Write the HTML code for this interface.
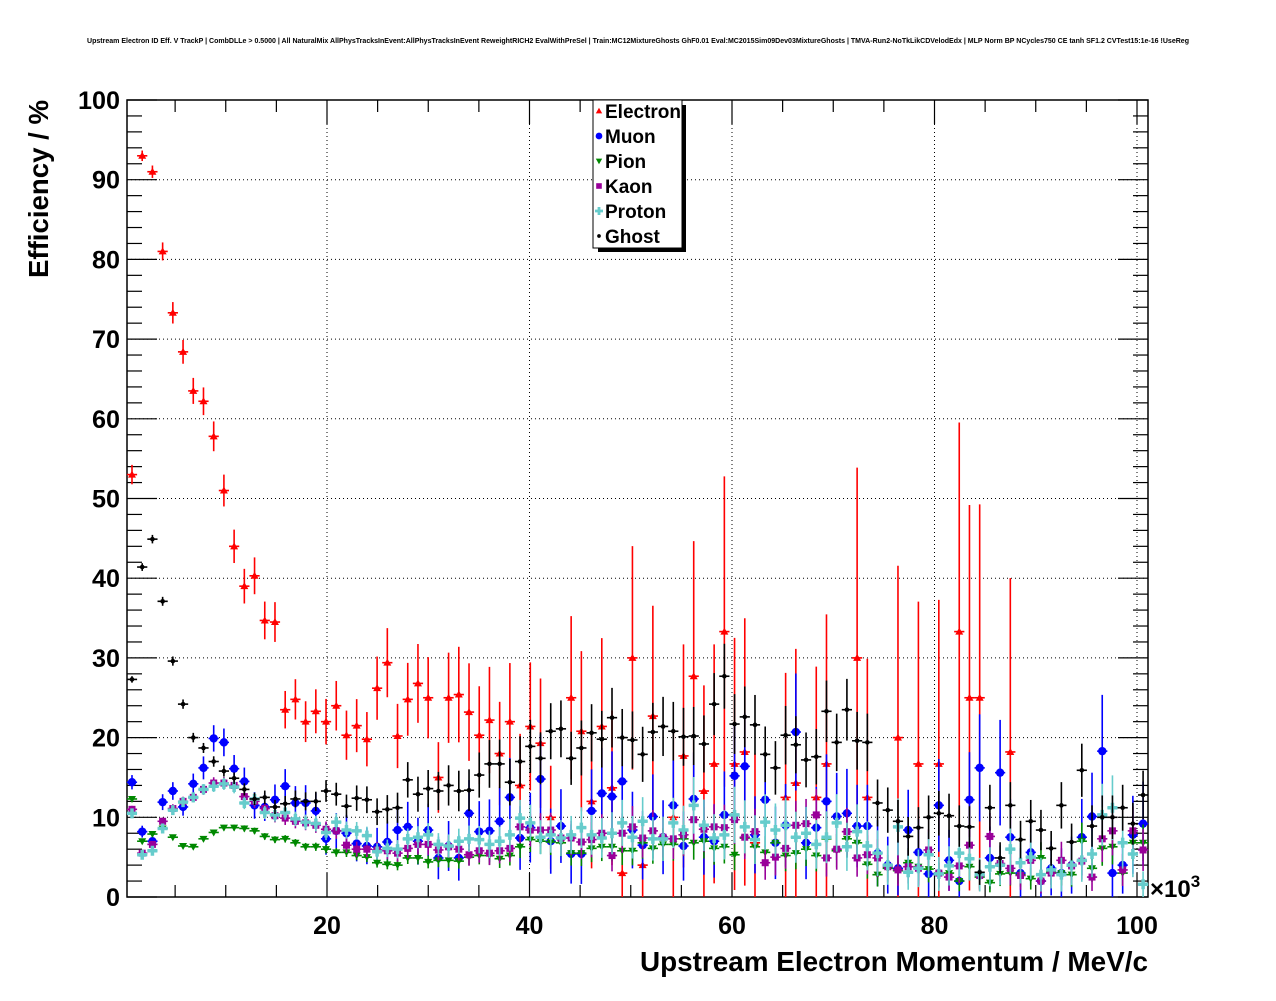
<!DOCTYPE html>
<html><head><meta charset="utf-8">
<style>
html,body{margin:0;padding:0;background:#fff;}
body{width:1276px;height:996px;overflow:hidden;font-family:"Liberation Sans",sans-serif;}
svg text{font-family:"Liberation Sans",sans-serif;font-weight:bold;}
</style></head>
<body>
<svg id="chart" width="1276" height="996" viewBox="0 0 1276 996" xmlns="http://www.w3.org/2000/svg">
<rect x="0" y="0" width="1276" height="996" fill="#fff"/>
<text x="87" y="43" font-size="7" textLength="1102" lengthAdjust="spacingAndGlyphs">Upstream Electron ID Eff. V TrackP | CombDLLe &gt; 0.5000 | All NaturalMix AllPhysTracksInEvent:AllPhysTracksInEvent ReweightRICH2 EvalWithPreSel | Train:MC12MixtureGhosts GhF0.01 Eval:MC2015Sim09Dev03MixtureGhosts | TMVA-Run2-NoTkLikCDVelodEdx | MLP Norm BP NCycles750 CE tanh SF1.2 CVTest15:1e-16 !UseReg</text>
<g id="grid"></g>
<g id="axes"></g>
<g id="marks"></g>
<g id="legend"></g>
<text x="1148" y="971" font-size="28" text-anchor="end" textLength="508" lengthAdjust="spacingAndGlyphs">Upstream Electron Momentum / MeV/c</text>
<text transform="translate(48,100) rotate(-90)" font-size="28" text-anchor="end" textLength="178" lengthAdjust="spacingAndGlyphs">Efficiency / %</text>
<text x="1150" y="897" font-size="24">×10<tspan font-size="17" dy="-10">3</tspan></text>
</svg>
<script>
// ---- data ----
const binStart = 0.74;
const binWidth = 1.0087;
const xTicks = [20, 40, 60, 80, 100];
const yTicks = [0, 10, 20, 30, 40, 50, 60, 70, 80, 90, 100];
const seriesNames = ["Electron", "Muon", "Pion", "Kaon", "Proton", "Ghost"];
const electron = [53,93,91,81,73.3,68.4,63.5,62.2,57.8,51,44,39,40.3,34.7,34.5,23.5,24.8,22,23.3,22,24,20.3,21.5,19.8,26.2,29.4,20.2,24.8,26.8,25,15,25,25.4,23.2,20.3,22.2,18,22,14,21.4,19.3,10,null,25,20.8,12,21.4,13.7,3,30,4,22.7,null,10,17.7,27.7,13.3,16.7,33.3,16.7,18.2,6.8,null,null,12.5,14.3,null,12.5,16.7,null,null,30,12.5,null,null,20,null,16.7,null,16.7,null,33.3,25,25,null,null,18.2,null,null,null,null,null,null,null,null,null,null,null,null,null];
const muon = [14.4,8.2,7,11.9,13.3,11.3,14.2,16.2,19.9,19.4,16.1,14.5,11.5,11.3,12.2,13.9,11.8,11.8,10.8,7.3,8.3,8,6.7,6.4,6.3,6.9,8.4,8.8,7,8.4,4.9,6.4,4.9,10.5,8.2,8.3,9.5,12.5,7.4,8.7,14.8,7,8.9,5.4,5.4,10.8,13,12.6,14.5,8.4,6.5,10.1,7.5,11.5,6.4,12.3,7.5,7,10.3,15.2,16.4,7.8,12.2,6.8,9,20.7,6.8,8.7,12,10.1,10.5,8.9,8.9,5.5,4,3.6,8.4,5.6,2.9,11.5,4.6,2,12.2,16.2,4.9,15.6,7.5,3,5.6,2,3.6,3,4,7.5,10.1,18.3,3,4,7.8,9.2];
const pion = [12.3,7,7.9,8.6,7.5,6.4,6.3,7.3,8.1,8.7,8.7,8.6,8.3,7.6,7.2,7.3,6.8,6.3,6.3,6,5.6,5.6,5.2,5,4.3,4.1,4,4.9,4.9,4.4,4.6,4.6,4.5,5,5.2,5.2,4.8,5.2,6.3,7.2,7,6.9,6.8,5.5,5.5,6.1,6.3,6.3,5.8,5.8,6.8,6.1,6.6,6.6,7.3,6.8,7,6.1,6.3,5.3,7.4,6.3,5.6,6.8,5.2,5.5,6,5.2,7.3,5.8,7.3,6.8,4.1,2.8,3.6,3.3,4.3,3.8,3.5,2.8,3,2,3.8,2.5,1.8,2.9,3,2.8,2.3,4.9,3.1,3,2.8,7,3.6,6.1,6.3,3,6.8,6.8];
const kaon = [11,5.5,6.6,9.5,11.1,12,12.5,13.5,14.3,14.3,14,12.6,12,11.1,10.2,9.9,9.5,9.3,9,8.5,8.3,6.5,6,6,5.9,5.8,5.5,6.1,6.6,6.6,5.9,6.3,6,5.3,5.8,5.5,5.8,6.1,8.8,8.4,8.4,8.4,7.4,7.4,6.9,7.2,8,5.2,8,8.8,7.4,8.3,7.5,7.3,7.8,9.7,8.5,8.8,8.7,9.7,7.5,8.2,4.3,5,6.1,9,9.2,10.3,4.9,6,8.2,4.9,5.3,4.9,3.8,3.4,3.8,3.6,5.9,3,2.5,3.9,6.5,2.7,7.6,4.2,3.6,2.7,4.6,2,3,4.6,3.9,4.5,2.5,7.3,8.3,3.4,8.3,5.9];
const proton = [10.5,5.3,5.8,8.6,10.9,11.9,12.5,13.5,13.9,14.2,13.8,11.8,12.3,10.6,10.3,10.6,9.8,9.4,9.2,8.1,9.4,8.4,8.3,7.7,5.7,6.1,6,7.3,7.5,7.8,6.6,6.4,7,7.3,7.2,6.6,7,7.8,9.9,9.3,7.5,7.8,7.4,7.8,8.7,7.8,7.4,8,9.3,7.5,9.5,7.3,7.3,9.3,8.4,11.5,9,7.4,7.8,10.3,8.8,7.2,9.4,8.4,9,7.5,8,6.6,7.5,9.3,6.3,8.2,6.4,5.5,4,8.8,3.1,3.6,5.3,2.9,3.9,5.5,4.8,2.8,3.8,4,6,4.3,5,2.8,3.4,2.8,4,4.6,5.4,10.3,11.2,6.8,5.4,1.6];
const ghost = [27.3,41.4,44.9,37.1,29.6,24.2,20,18.7,17,15.8,14.9,13.5,12.3,12.5,11.3,11.7,12.3,12,12,13.3,12.9,11.4,12.4,12.2,10.7,11,11.2,14.7,12.9,13.6,13.3,14,13.3,13.4,15.3,16.7,16.7,14.4,17,18.9,17.4,20.8,21.1,17.4,18.7,20.6,19.8,22.5,20,19.7,17.9,20.7,21.4,20.8,20.1,20.2,19.2,24.2,27.7,21.7,22.6,21.6,17.9,16.2,20.3,19.1,17.2,17.6,23.3,19.4,23.5,19.6,19.4,11.8,10.9,9.5,7.6,8.7,10,10.5,10.2,8.9,8.8,3.1,11.2,4.9,11.5,7.2,9.5,8.4,6.1,11.5,6.9,15.9,8.9,10,10,11.2,9.2,12.8];
// effective statistics scale per species (A, k, B) for error bars
const statA = [1675,1500,20000,5000,5000,12000];
const statK = [9.1,8,8,10,10,6];
const statB = [3,30,120,80,60,120];
const colors = ["#ff0000","#0000ff","#008800","#990099","#66cccc","#000000"];
const shapes = ["tri-up","circle","tri-down","square","cross","dot"];
const allSeries = [electron, muon, pion, kaon, proton, ghost];

// ---- axes ----
const L = 127, R = 1148, T = 100, B = 897;
const xMin = (L - 124.5) / 10.125, xMax = (R - 124.5) / 10.125;
const yMin = 0, yMax = 100;
function xScale(v){ return L + (v - xMin) / (xMax - xMin) * (R - L); }
function yScale(v){ return B - (v - yMin) / (yMax - yMin) * (B - T); }
const NS = "http://www.w3.org/2000/svg";
function mk(tag, attrs, parent){
  const e = document.createElementNS(NS, tag);
  for (const k in attrs) e.setAttribute(k, attrs[k]);
  parent.appendChild(e); return e;
}
const grid = document.getElementById('grid');
const axes = document.getElementById('axes');
const marks = document.getElementById('marks');
const legend = document.getElementById('legend');

yTicks.forEach(t => {
  if (t === 0 || t === 100) return;
  const l = mk('line', {x1:L, x2:R, y1:yScale(t), y2:yScale(t), stroke:'#000', 'stroke-width':1, 'stroke-dasharray':'1,3'}, grid);
  
  
});
xTicks.forEach(t => {
  if (t >= xMax) return;
  const l = mk('line', {x1:xScale(t), x2:xScale(t), y1:T, y2:B, stroke:'#000', 'stroke-width':1, 'stroke-dasharray':'1,3'}, grid);
  
  
});
const fr = mk('rect', {x:L, y:T, width:R-L, height:B-T, fill:'none', stroke:'#000', 'stroke-width':1.5}, axes);


for (let v = 0; v <= 100; v += 2) {
  const major = v % 10 === 0;
  const len = major ? 30 : 15;
  mk('line', {x1:L, x2:L+len, y1:yScale(v), y2:yScale(v), stroke:'#000', 'stroke-width':1.2}, axes);
  mk('line', {x1:R, x2:R-len, y1:yScale(v), y2:yScale(v), stroke:'#000', 'stroke-width':1.2}, axes);
}
yTicks.forEach(t => {
  const s = String(t);
  const tx = mk('text', {x:120, y:yScale(t)+9, 'font-size':25, 'text-anchor':'end', textLength: s.length*14, lengthAdjust:'spacingAndGlyphs'}, axes);
  tx.textContent = s;
  
  
});
for (let v = 5; v < xMax; v += 5) {
  const major = v % 20 === 0;
  const len = major ? 24 : 12;
  mk('line', {x1:xScale(v), x2:xScale(v), y1:B, y2:B-len, stroke:'#000', 'stroke-width':1.2}, axes);
  mk('line', {x1:xScale(v), x2:xScale(v), y1:T, y2:T+len, stroke:'#000', 'stroke-width':1.2}, axes);
}
xTicks.forEach(t => {
  const tx = mk('text', {x:xScale(t), y:934, 'font-size':25, 'text-anchor':'middle'}, axes);
  tx.textContent = t;
  
  
});

function marker(shape, cx, cy, color, parent, s){
  s = s || 1;
  let e;
  if (shape === 'tri-up') e = mk('polygon', {points:`${cx},${cy-4*s} ${cx-4*s},${cy+3*s} ${cx+4*s},${cy+3*s}`, fill:color}, parent);
  else if (shape === 'tri-down') e = mk('polygon', {points:`${cx},${cy+4*s} ${cx-4*s},${cy-3*s} ${cx+4*s},${cy-3*s}`, fill:color}, parent);
  else if (shape === 'circle') e = mk('circle', {cx:cx, cy:cy, r:4.2*s, fill:color}, parent);
  else if (shape === 'square') e = mk('rect', {x:cx-3.5*s, y:cy-3.5*s, width:7*s, height:7*s, fill:color}, parent);
  else if (shape === 'cross') e = mk('path', {d:`M${cx-5*s},${cy}H${cx+5*s}M${cx},${cy-5*s}V${cy+5*s}`, stroke:color, 'stroke-width':3.5*s}, parent);
  else e = mk('circle', {cx:cx, cy:cy, r:2.3*s, fill:color}, parent);
  return e;
}
allSeries.forEach((arr, si) => {
  const g = mk('g', {}, marks);
  
  
  arr.forEach((v, i) => {
    if (v === null) return;
    const xc = binStart + i * binWidth;
    const cx = xScale(xc), cy = yScale(v);
    const n = statA[si] * Math.exp(-i / statK[si]) + statB[si];
    const err = Math.sqrt(Math.max(v * (100 - v), 1) / n);
    const top = yScale(Math.min(100, v + err)), bot = yScale(Math.max(0, v - err));
    const w = (xScale(binWidth) - xScale(0)) / 2;
    mk('line', {x1:cx, x2:cx, y1:top, y2:bot, stroke:colors[si], 'stroke-width':1.6}, g);
    mk('line', {x1:cx-w, x2:cx+w, y1:cy, y2:cy, stroke:colors[si], 'stroke-width':1.6}, g);
    const m = marker(shapes[si], cx, cy, colors[si], g);
    
    
  });
});

mk('rect', {x:598, y:105, width:88, height:147, fill:'#000'}, legend);
const lb = mk('rect', {x:593, y:100, width:89, height:148, fill:'#fff', stroke:'#000', 'stroke-width':1}, legend);


seriesNames.forEach((nm, si) => {
  const y = 111 + si * 25;
  const g = mk('g', {}, legend);
  
  
  marker(shapes[si], 599, y, colors[si], g, 0.8);
  const t = mk('text', {x:605, y:y+7, 'font-size':19}, g);
  t.textContent = nm;
});
</script>
</body></html>
